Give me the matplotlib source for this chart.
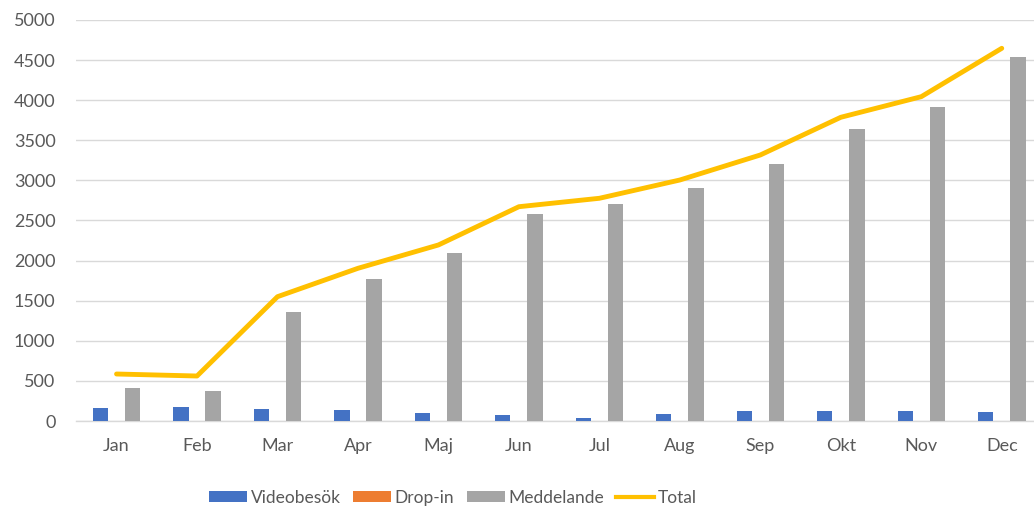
import matplotlib
matplotlib.use("Agg")
import matplotlib.pyplot as plt
import numpy as np
from matplotlib.patches import Patch
from matplotlib.lines import Line2D

months = ["Jan", "Feb", "Mar", "Apr", "Maj", "Jun", "Jul", "Aug", "Sep", "Okt", "Nov", "Dec"]
videobesok = [158, 171, 146, 133, 96, 75, 41, 83, 125, 125, 125, 108]
drop_in = [0, 0, 0, 0, 0, 0, 0, 0, 0, 0, 0, 0]
meddelande = [415, 378, 1363, 1767, 2099, 2581, 2706, 2901, 3204, 3637, 3919, 4543]
total = [586, 561, 1550, 1904, 2195, 2672, 2777, 3005, 3317, 3787, 4044, 4647]
yticks = [0, 500, 1000, 1500, 2000, 2500, 3000, 3500, 4000, 4500, 5000]

plt.rcParams['font.family'] = ['Lato', 'DejaVu Sans']
TXT = "#595959"
W, H = 1034, 509
fig = plt.figure(figsize=(W / 100, H / 100), dpi=100)
left, right, top, bottom = 76.3, 1042.0, 20.0, 421.0
ax = fig.add_axes([left / W, 1 - bottom / H, (right - left) / W, (bottom - top) / H])

x = np.arange(len(months))
bw = 0.19
off = 0.2
ax.bar(x - off, videobesok, bw, color="#4472C4", zorder=3)
ax.bar(x, drop_in, bw, color="#ED7D31", zorder=3)
ax.bar(x + off, meddelande, bw, color="#A5A5A5", zorder=3)
ax.plot(x, total, color="#FFC000", lw=3.5, solid_capstyle="round", solid_joinstyle="round", zorder=4)

ax.set_xlim(-0.5, len(months) - 0.5)
ax.set_ylim(0, 5000)
ax.set_yticks(yticks)
ax.set_yticklabels([str(v) for v in yticks])
ax.set_xticks(x)
ax.set_xticklabels(months)
ax.tick_params(axis="both", length=0, labelsize=13, colors=TXT)
ax.tick_params(axis="y", pad=15)
ax.tick_params(axis="x", pad=12)
ax.grid(axis="y", color="#D9D9D9", lw=1.0, zorder=0)
for s in ["top", "right", "left"]:
    ax.spines[s].set_visible(False)
ax.spines["bottom"].set_color("#D9D9D9")
ax.spines["bottom"].set_linewidth(1.0)
ax.spines["bottom"].set_zorder(1)

handles = [
    Patch(facecolor="#4472C4"),
    Patch(facecolor="#ED7D31"),
    Patch(facecolor="#A5A5A5"),
    Line2D([0], [0], color="#FFC000", lw=3.0),
]
labels = ["Videobesök", "Drop-in", "Meddelande", "Total"]
fig.legend(handles, labels, loc="center", bbox_to_anchor=(453 / W, 1 - 498 / H), ncol=4,
           frameon=False, fontsize=12.5, labelcolor=TXT, handlelength=2.2, handleheight=0.6,
           handletextpad=0.2, columnspacing=0.7)

fig.savefig("out.png", dpi=100)
